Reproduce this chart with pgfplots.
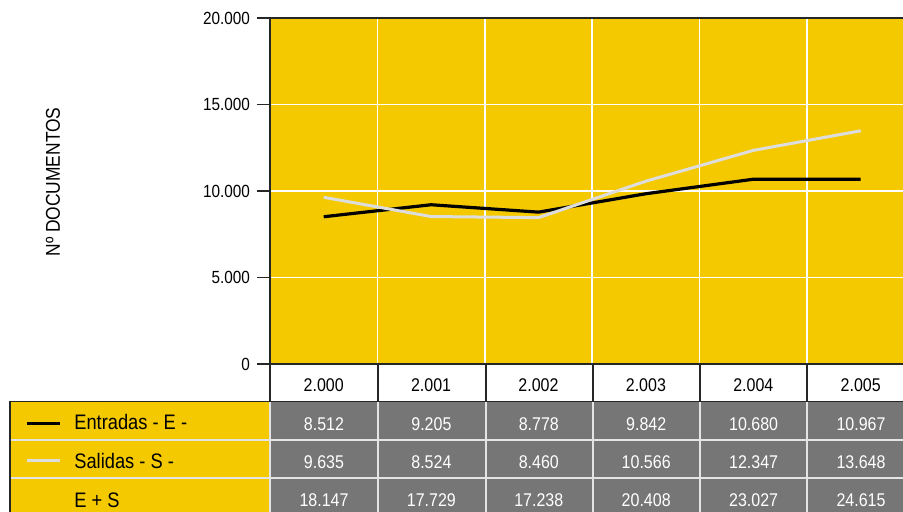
\documentclass[border=0pt]{standalone}
\usepackage{fontspec}
\setmainfont{Liberation Sans}[FakeStretch=0.87]
\usepackage{pgfplots}
\pgfplotsset{compat=1.18}
\definecolor{amarillo}{RGB}{244,201,0}
\definecolor{gris}{RGB}{118,118,118}
\definecolor{lineagris}{RGB}{221,221,221}
\definecolor{sep}{RGB}{228,228,228}

\begin{document}
\begin{tikzpicture}[x=0.5pt,y=0.5pt]
\useasboundingbox (-270,-148) rectangle (633,364);
\clip (-270,-148) rectangle (633,364);
\begin{axis}[
    at={(0,0)}, anchor=south west,
    scale only axis, width=330pt, height=173pt,
    xmin=-0.5, xmax=5.645, ymin=0, ymax=20000,
    axis background/.style={fill=amarillo},
    axis line style={black!85, line width=1pt},
    xtick={0,...,5},
    xticklabels={2.000,2.001,2.002,2.003,2.004,2.005},
    minor xtick={0.5,1.5,...,5.5},
    x tick style={draw=none},
    xminorgrids=true, ymajorgrids=true,
    minor grid style={white, line width=0.8pt},
    major grid style={white, line width=0.8pt},
    ytick={0,5000,10000,15000,20000},
    y tick style={black!85, line width=0.8pt},
    tick align=outside, major tick length=6.5pt,
    scaled y ticks=false,
    /pgf/number format/fixed,
    /pgf/number format/1000 sep={.},
    /pgf/number format/assume math mode=true,
    yticklabel style={font=\fontsize{8.8}{10}\selectfont},
    xticklabel style={font=\fontsize{9.2}{10}\selectfont, anchor=base, yshift=-7.2pt},
    ylabel={Nº DOCUMENTOS},
    every axis y label/.style={at={(axis description cs:-0.3288,0.526)}, rotate=90, anchor=center, font=\fontsize{10}{12}\selectfont},
]
% Entradas
\addplot[black, line width=1.6pt] coordinates {(0,8512)(1,9205)(2,8778)(3,9842)(4,10680)(5,10680)};
% Salidas
\addplot[lineagris, line width=1.5pt] coordinates {(0,9635)(1,8524)(2,8460)(3,10566)(4,12347)(5,13480)};
\end{axis}

% tabla
\foreach \xx in {0,108,216,323,430,537} \draw[black!85, line width=0.75pt] (\xx,0) -- (\xx,-37.7);
\fill[amarillo] (-260,-37.7) rectangle (0,-150);
\fill[gris] (0,-37.7) rectangle (633,-150);
\foreach \yy in {-76,-114} \draw[sep, line width=1pt] (-260,\yy) -- (633,\yy);
\foreach \xx in {0,108,216,323,430,537} \draw[sep, line width=1pt] (\xx,-37.7) -- (\xx,-150);
\draw[black!85, line width=0.75pt] (-260,-150) -- (-260,-37.7) -- (633,-37.7);

\draw[black, line width=1.5pt] (-243,-59.3) -- (-210,-59.3);
\draw[lineagris, line width=1.5pt] (-243,-97) -- (-210,-97);
\begin{scope}[every node/.style={anchor=base west, inner sep=0, font=\fontsize{10.5}{12}\selectfont}]
\node at (-196,-65.3) {Entradas - E -};
\node at (-196,-104.3) {Salidas - S -};
\node at (-196,-144) {E + S};
\end{scope}

\begin{scope}[every node/.style={anchor=base, inner sep=0, white, font=\fontsize{9.2}{10}\selectfont}]
\foreach \v [count=\i from 0] in {8.512,9.205,8.778,9.842,10.680,10.967}
  \node at ({54+107.4*\i},-66.7) {\v};
\foreach \v [count=\i from 0] in {9.635,8.524,8.460,10.566,12.347,13.648}
  \node at ({54+107.4*\i},-104.3) {\v};
\foreach \v [count=\i from 0] in {18.147,17.729,17.238,20.408,23.027,24.615}
  \node at ({54+107.4*\i},-142.5) {\v};
\end{scope}
\end{tikzpicture}
\end{document}
